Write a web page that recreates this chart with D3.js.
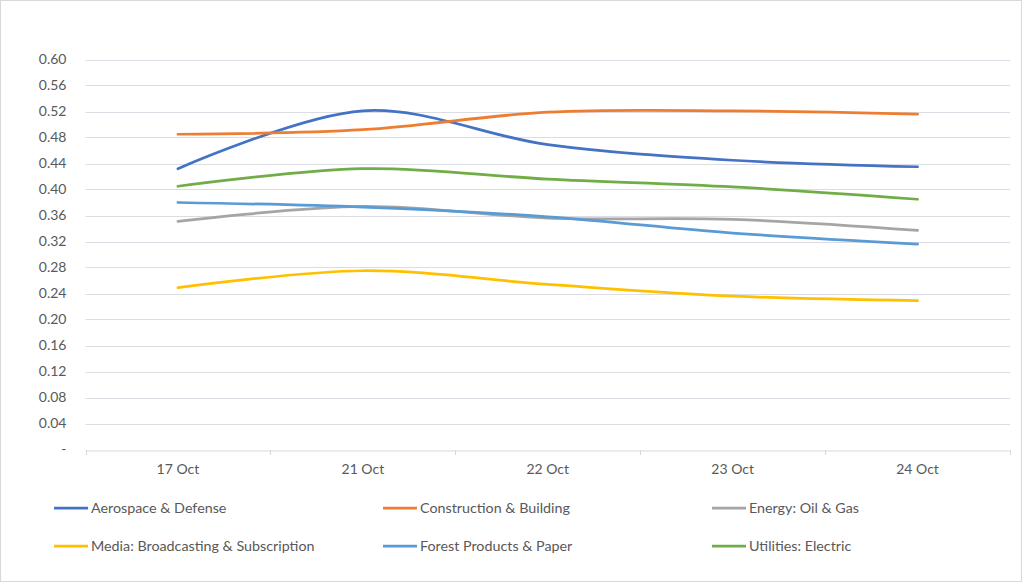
<!DOCTYPE html>
<html>
<head>
<meta charset="utf-8">
<script src="https://cdn.jsdelivr.net/npm/d3@7"></script>
<style>
  body { margin: 0; background: #fff; }
  svg text { font-family: Lato, "Open Sans", sans-serif; fill: #595959; }
</style>
</head>
<body>
<div id="svg-container"></div>
<script>
// data
const dates = ["17 Oct", "21 Oct", "22 Oct", "23 Oct", "24 Oct"];
const yTicks = [0, 0.04, 0.08, 0.12, 0.16, 0.2, 0.24, 0.28, 0.32, 0.36, 0.4, 0.44, 0.48, 0.52, 0.56, 0.6];
const seriesNames = [
  "Aerospace & Defense", "Construction & Building", "Energy: Oil & Gas",
  "Media: Broadcasting & Subscription", "Forest Products & Paper", "Utilities: Electric"
];
const aerospace = [0.432, 0.521, 0.469, 0.445, 0.435];
const construction = [0.485, 0.492, 0.519, 0.521, 0.516];
const energy = [0.351, 0.374, 0.356, 0.354, 0.337];
const media = [0.249, 0.275, 0.254, 0.236, 0.229];
const forest = [0.380, 0.373, 0.358, 0.333, 0.316];
const utilities = [0.405, 0.432, 0.416, 0.404, 0.385];
const colors = ["#4472C4", "#ED7D31", "#A5A5A5", "#FFC000", "#5B9BD5", "#70AD47"];

const allSeries = [aerospace, construction, energy, media, forest, utilities];

//////////////  Init  //////////////
const width = 1024, height = 584;
const margin = { top: 59.5, right: 14, bottom: 134.5, left: 85.5 };

const svg = d3.select("#svg-container").append("svg")
  .attr("width", width).attr("height", height);

// outer border
svg.append("rect")
  .attr("x", 0.5).attr("y", 0.5)
  .attr("width", width - 3).attr("height", height - 3)
  .attr("fill", "#fff").attr("stroke", "#d9d9d9");

// scales
const xScale = d3.scaleBand().domain(dates).range([margin.left, width - margin.right]);
const yScale = d3.scaleLinear().domain([0, 0.6]).range([height - margin.bottom, margin.top]);

// grid
svg.append("g")
  .selectAll("line")
  .data(yTicks.filter((d) => d > 0))
  .join("line")
  .attr("x1", margin.left).attr("x2", width - margin.right)
  .attr("y1", (d) => Math.round(yScale(d)) + 0.5)
  .attr("y2", (d) => Math.round(yScale(d)) + 0.5)
  .attr("stroke", "#dcdce4").attr("stroke-width", 1);

// y axis labels
const yAxis = d3.axisLeft(yScale)
  .tickValues(yTicks)
  .tickFormat((d) => (d === 0 ? "-" : d3.format(".2f")(d)))
  .tickSize(0).tickPadding(19);

svg.append("g")
  .attr("transform", `translate(${margin.left},0)`)
  .call(yAxis)
  .call((g) => g.select(".domain").remove())
  .call((g) => g.selectAll("text").attr("font-size", 14).style("fill", "#595959"));

// x axis
const xAxis = d3.axisBottom(xScale).tickSize(0).tickPadding(14).tickSizeOuter(0);
const xg = svg.append("g")
  .attr("transform", `translate(0,${Math.round(yScale(0)) + 0.5})`)
  .call(xAxis);
xg.select(".domain").attr("stroke", "#d9d9d9");
xg.selectAll("text").attr("font-size", 14).style("fill", "#595959");

// band boundary ticks
svg.append("g")
  .selectAll("line")
  .data(dates.concat(["end"]))
  .join("line")
  .attr("x1", (d, i) => Math.round(margin.left + i * xScale.bandwidth()) + 0.5)
  .attr("x2", (d, i) => Math.round(margin.left + i * xScale.bandwidth()) + 0.5)
  .attr("y1", Math.round(yScale(0)))
  .attr("y2", Math.round(yScale(0)) + 5)
  .attr("stroke", "#d9d9d9");

// lines
const line = d3.line()
  .curve(d3.curveCardinal.tension(0))
  .x((d, i) => xScale(dates[i]) + xScale.bandwidth() / 2)
  .y((d) => yScale(d));

svg.append("g")
  .selectAll("path")
  .data(allSeries)
  .join("path")
  .attr("fill", "none")
  .attr("stroke", (d, i) => colors[i])
  .attr("stroke-width", 2.75)
  .attr("stroke-linecap", "round")
  .attr("d", line);

// legend
const legendCols = [54, 383, 712];
const legendRows = [508, 546];
const legend = svg.append("g")
  .selectAll("g")
  .data(seriesNames)
  .join("g")
  .attr("transform", (d, i) => `translate(${legendCols[i % 3]},${legendRows[Math.floor(i / 3)]})`);

legend.append("line")
  .attr("x1", 0).attr("x2", 34)
  .attr("stroke", (d, i) => colors[i])
  .attr("stroke-width", 2.75);

legend.append("text")
  .attr("x", 37).attr("dy", "0.35em")
  .attr("font-size", 14.3)
  .text((d) => d);
</script>
</body>
</html>
